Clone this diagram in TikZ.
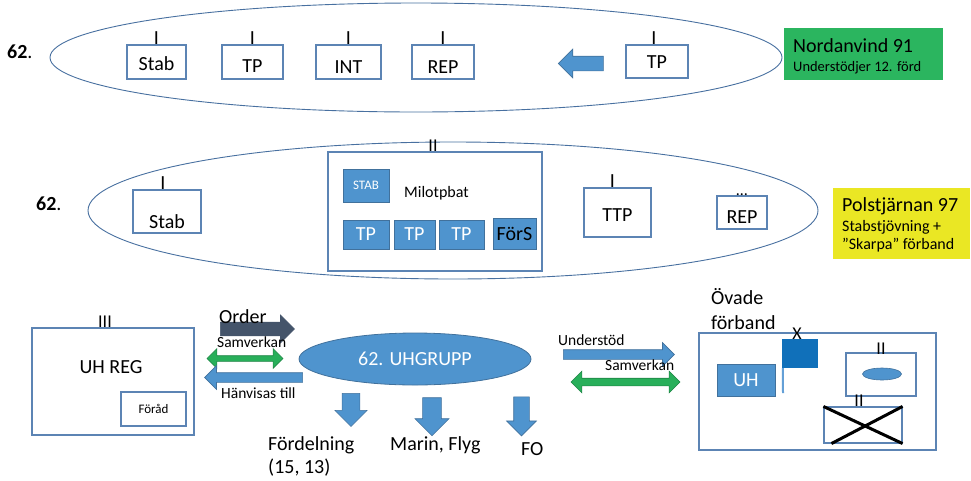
\documentclass[tikz,border=0pt]{standalone}
\usepackage{fontspec}
\setmainfont{Carlito}
\usetikzlibrary{positioning,shapes.geometric,shapes.arrows}
\definecolor{uhblue}{RGB}{79,148,206}
\definecolor{uhedge}{RGB}{65,113,156}
\definecolor{boxedge}{RGB}{92,132,180}
\definecolor{ringedge}{RGB}{72,112,160}
\definecolor{flagblue}{RGB}{16,112,186}
\definecolor{polegray}{RGB}{100,160,215}
\definecolor{arrowgreen}{RGB}{40,175,90}
\definecolor{nordgreen}{RGB}{43,181,95}
\definecolor{polyellow}{RGB}{234,231,36}
\definecolor{orderslate}{RGB}{68,84,106}
\newcommand{\fsBig}{\fontsize{20}{23}\selectfont}
\newcommand{\fsEch}{\fontsize{18}{21}\selectfont}
\newcommand{\fsMid}{\fontsize{16}{18}\selectfont}
\newcommand{\fsArr}{\fontsize{15.5}{18}\selectfont}
\newcommand{\fsSub}{\fontsize{14.5}{17}\selectfont}
\newcommand{\fsTiny}{\fontsize{13}{15}\selectfont}
\tikzset{
  unit/.style={draw=boxedge, line width=1.1pt, fill=white, inner sep=0pt},
  unitfill/.style={fill=uhblue, draw=uhedge, line width=0.8pt, inner sep=0pt, text=white, font=\fsBig},
  lbl/.style={inner sep=0pt, font=\fsBig},
  echelon/.style={inner sep=0pt, font=\fsBig},
  ring/.style={ellipse, draw=ringedge, line width=0.9pt, inner sep=0pt},
  blockarrow/.style={single arrow, single arrow head indent=0pt, fill=uhblue, draw=uhedge, line width=0.6pt, inner sep=0pt},
  twoway/.style={double arrow, double arrow head indent=0pt, fill=arrowgreen, draw=arrowgreen!75!black, line width=0.6pt, inner sep=0pt},
  crossline/.style={line width=3pt, black},
}
\begin{document}
\begin{tikzpicture}[x=1pt, y=-1pt]
	\useasboundingbox (0,0) rectangle (971,480);

	\node[ring, minimum width=732, minimum height=109] (ringA) at (416,57.5) {};
	\node[lbl, anchor=base west] (numA) at (7,58) {\textbf{62}.};
	\node[unit, minimum width=59, minimum height=34] (stabA) at (156.5,62) {};
	\node[unit, minimum width=61, minimum height=34] (tpA) at (252.5,62) {};
	\node[unit, minimum width=65, minimum height=34] (intA) at (348.5,62) {};
	\node[unit, minimum width=62, minimum height=34] (repA) at (443,62) {};
	\node[unit, minimum width=62, minimum height=33] (tpB) at (657,61.5) {};
	\node[lbl] (stabAt) at ([yshift=-2]stabA.center) {Stab};
	\node[lbl] (tpAt) at ([yshift=-4]tpA.center) {TP};
	\node[lbl] (intAt) at ([yshift=-5]intA.center) {INT};
	\node[lbl] (repAt) at ([yshift=-5]repA.center) {REP};
	\node[lbl] (tpBt) at ([yshift=-1]tpB.center) {TP};
	\node[echelon, above=0pt of stabA] (stabAe) {I};
	\node[echelon, above=0pt of tpA] (tpAe) {I};
	\node[echelon, above=0pt of intA] (intAe) {I};
	\node[echelon, above=0pt of repA] (repAe) {I};
	\node[echelon, above=0pt of tpB, xshift=-3pt] (tpBe) {I};
	\node[blockarrow, rotate=180, minimum height=45, minimum width=27, inner ysep=7] (tpArrow) at (584.5,63.5) {};
	\node[fill=nordgreen, minimum width=159, minimum height=52, inner sep=0pt] (nord) at (863.5,54) {};
	\node[lbl, anchor=base west] (nordT) at (793,52) {Nordanvind 91};
	\node[lbl, font=\fsSub, anchor=base west] (nordS) at (793,71) {Understödjer 12. förd};

	\node[ring, minimum width=730, minimum height=137] (ringB) at (453,210.5) {};
	\node[lbl, anchor=base west] (numB) at (36,210) {\textbf{62}.};
	\node[unit, minimum width=68, minimum height=43] (stabB) at (167,211.5) {};
	\node[lbl] (stabBt) at ([yshift=-10]stabB.center) {Stab};
	\node[echelon, above=0pt of stabB, xshift=-4pt] (stabBe) {I};
	\node[unit, minimum width=214, minimum height=119] (milot) at (435,211.5) {};
	\node[echelon, font=\fsEch, above=0pt of milot, xshift=-2pt] (milotE) {II};
	\node[unitfill, font=\fsTiny, minimum width=46, minimum height=33] (stabS) at (366,185.5) {STAB};
	\node[lbl, font=\fsMid, anchor=west] (milotT) at (404,193) {Milotpbat};
	\node[unitfill, minimum width=46, minimum height=29] (tpC) at (366,234.5) {TP};
	\node[unitfill, minimum width=41, minimum height=29] (tpD) at (414.5,234.5) {TP};
	\node[unitfill, minimum width=45, minimum height=29] (tpE) at (461.5,234.5) {TP};
	\node[unitfill, text=black, minimum width=43, minimum height=31] (fors) at (514.5,233.5) {FörS};
	\node[unit, minimum width=67, minimum height=49] (ttp) at (617.5,212.5) {};
	\node[lbl] (ttpt) at ([yshift=-3]ttp.center) {TTP};
	\node[echelon, above=0pt of ttp, xshift=-5pt] (ttpe) {I};
	\node[unit, minimum width=50, minimum height=33] (repB) at (742,212.5) {};
	\node[lbl] (repBt) at ([yshift=-5]repB.center) {REP};
	\node[echelon, font=\fsMid, anchor=base] (repBe) at (742,195) {…};
	\node[fill=polyellow, minimum width=137, minimum height=71, inner sep=0pt] (pol) at (901.5,223.5) {};
	\node[lbl, anchor=base west] (polT) at (842,211) {Polstjärnan 97};
	\node[lbl, font=\fsMid, anchor=base west] (polS) at (842,231) {Stabstjövning +};
	\node[lbl, font=\fsMid, anchor=base west] (polU) at (842,249) {”Skarpa” förband};

	\node[unit, minimum width=162, minimum height=107] (uhreg) at (113,381.5) {};
	\node[lbl] (uhregt) at (111,367) {UH REG};
	\node[echelon, font=\fsEch, above=0pt of uhreg, xshift=-8pt] (uhrege) {III};
	\node[unit, font=\fsTiny, minimum width=65, minimum height=34] (forad) at (153.5,409) {Föråd};
	\node[blockarrow, fill=orderslate, draw=orderslate, minimum height=74, minimum width=23, inner ysep=6.5] (orderArrow) at (254,329) {};
	\node[lbl, anchor=base west] (orderT) at (219,323) {Order};
	\node[lbl, font=\fsArr, anchor=base west] (samAt) at (217,347) {Samverkan};
	\node[twoway, minimum height=76, minimum width=11, inner ysep=2.5] (samA) at (245,358.5) {};
	\node[blockarrow, rotate=180, minimum height=98, minimum width=19, inner ysep=4.5] (hanv) at (256,377.5) {};
	\node[lbl, font=\fsArr, anchor=base west] (hanvT) at (221,398) {Hänvisas till};
	\node[ellipse, fill=uhblue, draw=uhedge, line width=0.8pt, inner sep=0pt, minimum width=232, minimum height=52, text=white, font=\fsBig] (uhg) at (415,359) {62. UHGRUPP};
	\node[blockarrow, rotate=-90, minimum height=33, minimum width=32, inner ysep=8.5] (downA) at (351,405.5) {};
	\node[blockarrow, rotate=-90, minimum height=38, minimum width=34, inner ysep=8.5] (downB) at (432,412) {};
	\node[blockarrow, rotate=-90, minimum height=39, minimum width=29, inner ysep=7.5] (downC) at (521.5,412.5) {};
	\node[lbl, font=\fontsize{20}{23}\selectfont, align=left, anchor=north west] (ford) at (268,436) {Fördelning\\(15, 13)};
	\node[lbl, anchor=base west] (marin) at (390,450) {Marin, Flyg};
	\node[lbl, anchor=base west] (fo) at (521,455) {FO};

	\node[lbl, font=\fsArr, anchor=base west] (undT) at (558,345) {Understöd};
	\node[blockarrow, minimum height=111, minimum width=15, inner ysep=4.5] (und) at (616.5,354.5) {};
	\node[lbl, font=\fsArr, anchor=base west] (samBt) at (605,370) {Samverkan};
	\node[twoway, minimum height=109, minimum width=14, inner ysep=3.5] (samB) at (625.5,382) {};
	\node[lbl, font=\fontsize{20}{25}\selectfont, align=left, anchor=south west] (ovadeT) at (711,330) {Övade\\förband};
	\node[unit, minimum width=237, minimum height=117] (ovade) at (817.5,391.5) {};
	\node[unitfill, minimum width=58, minimum height=32] (uh) at (746,380) {UH};
	\node[fill=flagblue, minimum width=36, minimum height=29, inner sep=0pt] (flag) at (800,353.5) {};
	\coordinate (poleFoot) at (783,393);
	\draw[polegray, line width=2pt] ([xshift=1]flag.south west) -- (poleFoot);
	\node[echelon, font=\fsEch, above=-1pt of flag, xshift=-3pt] (flagE) {X};
	\node[unit, minimum width=70, minimum height=43] (bn) at (881,374.5) {};
	\node[ellipse, fill=uhblue, draw=uhedge, line width=0.6pt, inner sep=0pt, minimum width=39, minimum height=12] (bnMark) at (882,374) {};
	\node[echelon, font=\fsEch, above=-2pt of bn] (bnE) {II};
	\node[unit, minimum width=78, minimum height=36] (crossBox) at (863,425) {};
	\draw[crossline] (crossBox.north west) -- (crossBox.south east);
	\draw[crossline] ([xshift=8]crossBox.south west) -- (crossBox.north east);
	\node[echelon, font=\fsEch, above=0pt of crossBox, xshift=-4pt] (crossE) {II};
\end{tikzpicture}
\end{document}
